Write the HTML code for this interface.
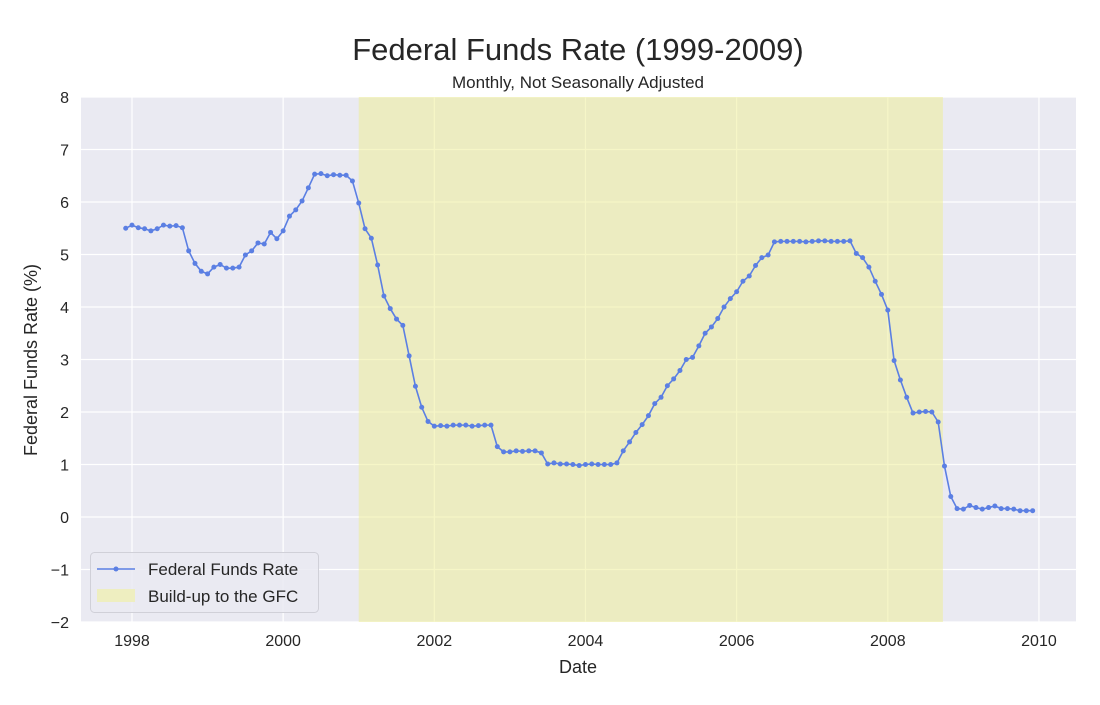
<!DOCTYPE html>
<html><head><meta charset="utf-8"><style>
body{margin:0;background:#fff;font-family:"Liberation Sans",sans-serif}
svg text{font-family:"Liberation Sans",sans-serif;fill:#262626}
</style></head><body>
<svg id="chart" width="1100" height="700">
<rect x="81" y="97" width="995" height="525" fill="#eaeaf2"/>
<g id="grid"></g>
<g id="shade"></g>
<g id="series"></g>
<g id="ticks"></g>
<text x="578" y="60" font-size="31" text-anchor="middle">Federal Funds Rate (1999-2009)</text>
<text x="578" y="88" font-size="17" text-anchor="middle">Monthly, Not Seasonally Adjusted</text>
<text x="578" y="673" font-size="18" text-anchor="middle">Date</text>
<text transform="translate(37,360) rotate(-90)" font-size="18" text-anchor="middle">Federal Funds Rate (%)</text>
<g>
<rect x="90.5" y="552.5" width="228" height="60" rx="4" fill="#eaeaf2" fill-opacity="0.85" stroke="#d0d0d8"/>
<line x1="97" y1="569" x2="135" y2="569" stroke="#5b7fe3" stroke-width="1.5"/>
<circle cx="116" cy="569" r="2.5" fill="#5b7fe3"/>
<text x="148" y="575" font-size="17">Federal Funds Rate</text>
<rect x="97" y="589" width="38" height="13" fill="#eeeec0"/>
<text x="148" y="602" font-size="17">Build-up to the GFC</text>
</g>
</svg>
<script>
const startYear = 1997 + 11/12;
const rates = [5.50,
5.56,5.51,5.49,5.45,5.49,5.56,5.54,5.55,5.51,5.07,4.83,4.68,
4.63,4.76,4.81,4.74,4.74,4.76,4.99,5.07,5.22,5.20,5.42,5.30,
5.45,5.73,5.85,6.02,6.27,6.53,6.54,6.50,6.52,6.51,6.51,6.40,
5.98,5.49,5.31,4.80,4.21,3.97,3.77,3.65,3.07,2.49,2.09,1.82,
1.73,1.74,1.73,1.75,1.75,1.75,1.73,1.74,1.75,1.75,1.34,1.24,
1.24,1.26,1.25,1.26,1.26,1.22,1.01,1.03,1.01,1.01,1.00,0.98,
1.00,1.01,1.00,1.00,1.00,1.03,1.26,1.43,1.61,1.76,1.93,2.16,
2.28,2.50,2.63,2.79,3.00,3.04,3.26,3.50,3.62,3.78,4.00,4.16,
4.29,4.49,4.59,4.79,4.94,4.99,5.24,5.25,5.25,5.25,5.25,5.24,
5.25,5.26,5.26,5.25,5.25,5.25,5.26,5.02,4.94,4.76,4.49,4.24,
3.94,2.98,2.61,2.28,1.98,2.00,2.01,2.00,1.81,0.97,0.39,0.16,
0.15,0.22,0.18,0.15,0.18,0.21,0.16,0.16,0.15,0.12,0.12,0.12];
const xTicks = [1998,2000,2002,2004,2006,2008,2010];
const yTicks = [-2,-1,0,1,2,3,4,5,6,7,8];
const shadeRange = [2001.0, 2008 + 8.75/12];

const NS="http://www.w3.org/2000/svg";
const X = v => 132 + (v-1998)*75.58;
const Y = v => 517 - v*52.5;
function mk(tag, attrs, parent){const e=document.createElementNS(NS,tag);for(const k in attrs)e.setAttribute(k,attrs[k]);parent.appendChild(e);return e;}
const grid=document.getElementById('grid'), ticks=document.getElementById('ticks');
xTicks.forEach(t=>{
  const l=mk('line',{x1:X(t),x2:X(t),y1:97,y2:622,stroke:'#fff','stroke-width':1.2},grid);
  
  
  const tx=mk('text',{x:X(t),y:646,'font-size':16,'text-anchor':'middle'},ticks);
  tx.textContent=t;
  
  
});
yTicks.forEach(t=>{
  const l=mk('line',{x1:81,x2:1076,y1:Y(t),y2:Y(t),stroke:'#fff','stroke-width':1.2},grid);
  
  
  const tx=mk('text',{x:69,y:Y(t)+6,'font-size':16,'text-anchor':'end'},ticks);
  tx.textContent=t<0?'\u2212'+(-t):t;
  
  
});
const sh=mk('rect',{x:X(shadeRange[0]),y:97,width:X(shadeRange[1])-X(shadeRange[0]),height:525,fill:'#eeee90','fill-opacity':0.5},document.getElementById('shade'));


const ser=document.getElementById('series');
const pts=rates.map((r,i)=>[X(startYear+i/12),Y(r)]);
const pl=mk('polyline',{points:pts.map(p=>p.join(',')).join(' '),fill:'none',stroke:'#5b7fe3','stroke-width':1.6},ser);


pts.forEach(p=>{
  const c=mk('circle',{cx:p[0],cy:p[1],r:2.5,fill:'#5b7fe3'},ser);
  
  
});
</script>
</body></html>
